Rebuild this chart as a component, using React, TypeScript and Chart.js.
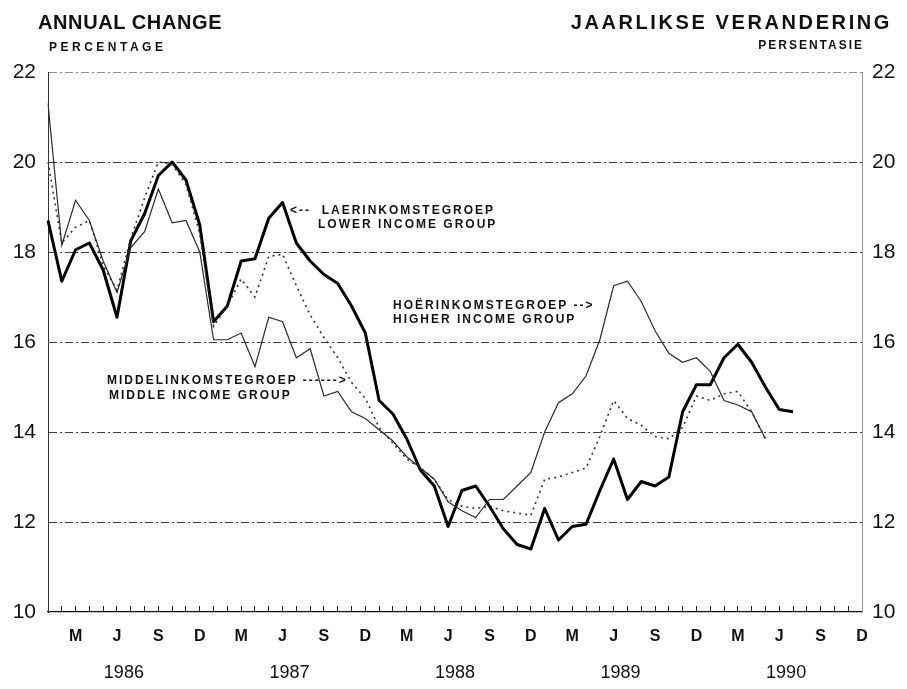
import React, { useEffect, useRef } from 'react';
import { Chart, registerables } from 'chart.js';

Chart.register(...registerables);

const FONT = '"Liberation Sans", Arial, Helvetica, sans-serif';

// Monthly observations, January 1986 – December 1990
const monthLetters = ['J', 'F', 'M', 'A', 'M', 'J', 'J', 'A', 'S', 'O', 'N', 'D'];
const shownMonthIdx = [2, 5, 8, 11]; // M J S D
const years = [1986, 1987, 1988, 1989, 1990];
const monthLabels = years.flatMap((y) => monthLetters.map((m, i) => `${y}-${i + 1}`));

const yTicks = [10, 12, 14, 16, 18, 20, 22];

// Lower income group (thick solid)
const lowerIncome = [
  18.7, 17.35, 18.05, 18.2, 17.6, 16.55, 18.25, 18.85, 19.7, 20.0, 19.6, 18.6,
  16.45, 16.8, 17.8, 17.85, 18.75, 19.1, 18.2, 17.8, 17.5, 17.3, 16.8, 16.2,
  14.7, 14.4, 13.85, 13.15, 12.8, 11.9, 12.7, 12.8, 12.35, 11.85, 11.5, 11.4,
  12.3, 11.6, 11.9, 11.95, 12.7, 13.4, 12.5, 12.9, 12.8, 13.0, 14.45, 15.05,
  15.05, 15.65, 15.95, 15.55, 15.0, 14.5, 14.45, null, null, null, null, null,
];

// Middle income group (dotted)
const middleIncome = [
  20.0, 18.2, 18.55, 18.7, 17.7, 17.15, 18.3, 19.2, 20.0, 19.95, 19.5, 18.4,
  16.35, 16.8, 17.4, 17.0, 17.9, 17.95, 17.25, 16.6, 16.1, 15.65, 15.1, 14.75,
  14.1, 13.75, 13.4, 13.2, 12.95, 12.5, 12.35, 12.3, 12.35, 12.25, 12.2, 12.15,
  12.95, 13.0, 13.1, 13.2, 13.9, 14.7, 14.3, 14.15, 13.9, 13.85, 14.1, 14.8,
  14.7, 14.85, 14.9, 14.45, 13.85, null, null, null, null, null, null, null,
];

// Higher income group (thin solid)
const higherIncome = [
  21.3, 18.15, 19.15, 18.7, 17.8, 17.1, 18.1, 18.45, 19.4, 18.65, 18.7, 18.0,
  16.05, 16.05, 16.2, 15.45, 16.55, 16.45, 15.65, 15.85, 14.8, 14.9, 14.45, 14.3,
  14.05, 13.8, 13.45, 13.2, 12.95, 12.45, 12.25, 12.1, 12.5, 12.5, 12.8, 13.1,
  14.0, 14.65, 14.85, 15.25, 16.05, 17.25, 17.35, 16.9, 16.25, 15.75, 15.55, 15.65,
  15.35, 14.7, 14.6, 14.45, 13.85, null, null, null, null, null, null, null,
];

const labelStyle: React.CSSProperties = {
  position: 'absolute',
  fontFamily: FONT,
  fontWeight: 'bold',
  color: '#111',
  whiteSpace: 'pre',
  lineHeight: 1,
};

export default function App() {
  const ref = useRef<HTMLCanvasElement>(null);

  useEffect(() => {
    if (!ref.current) return;
    const tickFontY = { family: FONT, size: 21 };
    const chart = new Chart(ref.current, {
      type: 'line',
      data: {
        labels: monthLabels,
        datasets: [
          {
            label: 'Higher income group',
            data: higherIncome,
            borderColor: '#2a2a2a',
            borderWidth: 1.2,
            pointRadius: 0,
            tension: 0,
            spanGaps: false,
          },
          {
            label: 'Middle income group',
            data: middleIncome,
            borderColor: '#333',
            borderWidth: 1.6,
            borderDash: [2, 4],
            pointRadius: 0,
            tension: 0,
            spanGaps: false,
          },
          {
            label: 'Lower income group',
            data: lowerIncome,
            borderColor: '#000',
            borderWidth: 3,
            borderJoinStyle: 'round',
            pointRadius: 0,
            tension: 0,
            spanGaps: false,
          },
        ],
      },
      options: {
        responsive: false,
        animation: false,
        devicePixelRatio: 1,
        layout: { padding: { top: 72, left: 0, right: 0, bottom: 0 } },
        plugins: { legend: { display: false }, tooltip: { enabled: false } },
        scales: {
          x: {
            type: 'category',
            position: 'bottom',
            offset: false,
            weight: 0,
            grid: {
              drawOnChartArea: false,
              drawTicks: true,
              tickLength: -6,
              color: '#222',
              lineWidth: 1,
            },
            border: { display: true, color: '#111', width: 1.2 },
            ticks: {
              autoSkip: false,
              maxRotation: 0,
              minRotation: 0,
              padding: 21,
              color: '#111',
              font: { family: FONT, size: 16, weight: 'bold' },
              callback: (_v: any, index: number) =>
                shownMonthIdx.includes(index % 12) ? monthLetters[index % 12] : '',
            },
            afterFit: (s: any) => {
              s.height = 45;
            },
          },
          years: {
            type: 'linear',
            position: 'bottom',
            weight: 1,
            min: 0,
            max: monthLabels.length - 1,
            grid: { display: false, drawTicks: false },
            border: { display: false },
            afterBuildTicks: (s: any) => {
              s.ticks = years.map((_y, i) => ({ value: 5.5 + 12 * i }));
            },
            ticks: {
              autoSkip: false,
              maxRotation: 0,
              padding: 5,
              color: '#111',
              font: { family: FONT, size: 18 },
              callback: (v: any) => String(years[Math.round((Number(v) - 5.5) / 12)]),
            },
            afterFit: (s: any) => {
              s.height = 32;
            },
          },
          y: {
            type: 'linear',
            position: 'left',
            min: 10,
            max: 22,
            afterBuildTicks: (s: any) => {
              s.ticks = yTicks.map((v) => ({ value: v }));
            },
            grid: {
              drawTicks: false,
              lineWidth: 1,
              color: (ctx: any) =>
                ctx.tick && ctx.tick.value === 22
                  ? '#8a8a8a'
                  : ctx.tick && ctx.tick.value === 10
                  ? 'rgba(0,0,0,0)'
                  : '#3a3a3a',
            },
            border: { display: true, color: '#333', width: 1, dash: [8, 3, 2, 3] },
            ticks: { padding: 12, color: '#111', font: tickFontY },
            afterFit: (s: any) => {
              s.width = 48;
            },
          },
          y2: {
            type: 'linear',
            position: 'right',
            min: 10,
            max: 22,
            afterBuildTicks: (s: any) => {
              s.ticks = yTicks.map((v) => ({ value: v }));
            },
            grid: { drawOnChartArea: false, drawTicks: false },
            border: { display: true, color: '#9a9a9a', width: 1 },
            ticks: { padding: 10, color: '#111', font: tickFontY },
            afterFit: (s: any) => {
              s.width = 45;
            },
          },
        },
      } as any,
    });
    return () => chart.destroy();
  }, []);

  return (
    <div
      style={{
        position: 'absolute',
        left: 0,
        top: 0,
        width: 907,
        height: 689,
        background: '#fff',
        overflow: 'hidden',
      }}
    >
      <canvas
        ref={ref}
        width={907}
        height={689}
        style={{ position: 'absolute', left: 0, top: 0, width: 907, height: 689 }}
      />
      <div style={{ ...labelStyle, left: 38, top: 12, fontSize: 20, letterSpacing: 0.6 }}>
        ANNUAL CHANGE
      </div>
      <div style={{ ...labelStyle, right: 15, top: 12, fontSize: 20, letterSpacing: 2.6 }}>
        JAARLIKSE VERANDERING
      </div>
      <div style={{ ...labelStyle, left: 49, top: 41, fontSize: 12, letterSpacing: 3.5 }}>PERCENTAGE</div>
      <div style={{ ...labelStyle, right: 43, top: 39, fontSize: 12, letterSpacing: 2 }}>PERSENTASIE</div>

      <div style={{ ...labelStyle, left: 290, top: 204, fontSize: 12, letterSpacing: 2 }}>
        {'<--  LAERINKOMSTEGROEP'}
      </div>
      <div style={{ ...labelStyle, left: 318, top: 218, fontSize: 12, letterSpacing: 2 }}>
        LOWER INCOME GROUP
      </div>

      <div style={{ ...labelStyle, left: 393, top: 299, fontSize: 12, letterSpacing: 2 }}>
        {'HOËRINKOMSTEGROEP -->'}
      </div>
      <div style={{ ...labelStyle, left: 393, top: 313, fontSize: 12, letterSpacing: 2 }}>
        HIGHER INCOME GROUP
      </div>

      <div style={{ ...labelStyle, left: 107, top: 374, fontSize: 12, letterSpacing: 2 }}>
        {'MIDDELINKOMSTEGROEP ------>'}
      </div>
      <div style={{ ...labelStyle, left: 109, top: 389, fontSize: 12, letterSpacing: 2 }}>
        MIDDLE INCOME GROUP
      </div>
    </div>
  );
}
